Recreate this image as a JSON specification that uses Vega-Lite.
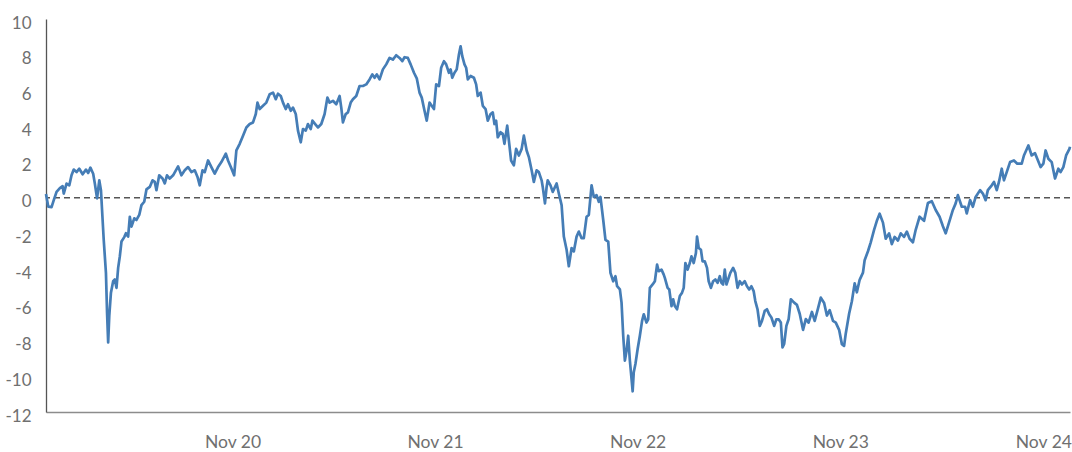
{
  "$schema": "https://vega.github.io/schema/vega-lite/v6.json",
  "autosize": "none",
  "width": 1024,
  "height": 393,
  "padding": {"left": 46, "top": 19, "right": 2, "bottom": 40},
  "background": "#ffffff",
  "config": {
    "view": {"stroke": null},
    "axis": {"labelFont": "Lato", "labelFontSize": 17, "labelColor": "#707070", "grid": false, "ticks": false, "tickSize": 0, "title": null, "labelOverlap": false}
  },
  "datasets": {
    "series": [
{"d":"2019-12-01","v":0.2},{"d":"2019-12-05","v":-0.5},{"d":"2019-12-11","v":-0.53},{"d":"2019-12-15","v":-0.14},{"d":"2019-12-20","v":0.32},{"d":"2019-12-26","v":0.53},{"d":"2019-12-31","v":0.64},
{"d":"2020-01-02","v":0.23},{"d":"2020-01-07","v":0.79},{"d":"2020-01-12","v":0.69},{"d":"2020-01-16","v":1.25},{"d":"2020-01-20","v":1.57},{"d":"2020-01-25","v":1.43},{"d":"2020-01-30","v":1.62},
{"d":"2020-02-05","v":1.31},{"d":"2020-02-11","v":1.57},{"d":"2020-02-15","v":1.38},{"d":"2020-02-19","v":1.68},{"d":"2020-02-24","v":1.34},{"d":"2020-02-27","v":0.79},
{"d":"2020-03-02","v":-0.04},{"d":"2020-03-06","v":0.97},{"d":"2020-03-09","v":0.42},{"d":"2020-03-11","v":-0.69},{"d":"2020-03-14","v":-2.36},{"d":"2020-03-18","v":-4.21},{"d":"2020-03-20","v":-6.43},{"d":"2020-03-22","v":-8.1},{"d":"2020-03-24","v":-6.62},{"d":"2020-03-27","v":-5.32},{"d":"2020-03-31","v":-4.68},
{"d":"2020-04-03","v":-4.58},{"d":"2020-04-06","v":-5.05},{"d":"2020-04-09","v":-3.93},{"d":"2020-04-12","v":-3.29},{"d":"2020-04-15","v":-2.46},{"d":"2020-04-20","v":-2.21},{"d":"2020-04-23","v":-1.99},{"d":"2020-04-27","v":-2.18},{"d":"2020-04-30","v":-1.07},
{"d":"2020-05-03","v":-1.62},{"d":"2020-05-08","v":-1.16},{"d":"2020-05-12","v":-1.25},{"d":"2020-05-17","v":-0.97},{"d":"2020-05-21","v":-0.42},{"d":"2020-05-26","v":-0.23},{"d":"2020-05-30","v":0.46},
{"d":"2020-06-05","v":0.6},{"d":"2020-06-10","v":0.97},{"d":"2020-06-14","v":0.88},{"d":"2020-06-17","v":0.42},{"d":"2020-06-22","v":1.25},{"d":"2020-06-28","v":1.07},
{"d":"2020-07-02","v":0.8},{"d":"2020-07-06","v":1.25},{"d":"2020-07-11","v":1.07},{"d":"2020-07-17","v":1.25},{"d":"2020-07-26","v":1.75},
{"d":"2020-08-01","v":1.25},{"d":"2020-08-07","v":1.53},{"d":"2020-08-13","v":1.71},{"d":"2020-08-19","v":1.43},{"d":"2020-08-25","v":1.53},{"d":"2020-08-30","v":1.16},
{"d":"2020-09-03","v":0.69},{"d":"2020-09-08","v":1.53},{"d":"2020-09-12","v":1.43},{"d":"2020-09-18","v":2.08},{"d":"2020-09-24","v":1.71},{"d":"2020-09-30","v":1.34},
{"d":"2020-10-06","v":1.71},{"d":"2020-10-12","v":1.99},{"d":"2020-10-20","v":2.46},{"d":"2020-10-24","v":2.08},{"d":"2020-10-29","v":1.71},
{"d":"2020-11-04","v":1.25},{"d":"2020-11-08","v":2.64},{"d":"2020-11-14","v":3.01},{"d":"2020-11-20","v":3.47},{"d":"2020-11-26","v":3.93},
{"d":"2020-12-02","v":4.12},{"d":"2020-12-08","v":4.21},{"d":"2020-12-13","v":4.68},{"d":"2020-12-16","v":5.32},{"d":"2020-12-20","v":4.96},{"d":"2020-12-26","v":5.14},
{"d":"2021-01-01","v":5.32},{"d":"2021-01-07","v":5.79},{"d":"2021-01-13","v":5.88},{"d":"2021-01-18","v":5.51},{"d":"2021-01-22","v":5.82},{"d":"2021-01-27","v":5.69},{"d":"2021-01-31","v":5.32},
{"d":"2021-02-05","v":4.96},{"d":"2021-02-09","v":5.23},{"d":"2021-02-14","v":4.86},{"d":"2021-02-18","v":5.04},{"d":"2021-02-23","v":4.68},{"d":"2021-02-27","v":3.75},
{"d":"2021-03-04","v":3.1},{"d":"2021-03-08","v":3.84},{"d":"2021-03-13","v":3.75},{"d":"2021-03-17","v":4.12},{"d":"2021-03-22","v":3.84},{"d":"2021-03-25","v":4.31},{"d":"2021-03-30","v":4.12},
{"d":"2021-04-04","v":3.93},{"d":"2021-04-10","v":4.12},{"d":"2021-04-16","v":4.68},{"d":"2021-04-21","v":5.6},{"d":"2021-04-25","v":5.32},
{"d":"2021-05-01","v":5.42},{"d":"2021-05-07","v":5.23},{"d":"2021-05-13","v":5.69},{"d":"2021-05-16","v":5.04},{"d":"2021-05-19","v":4.21},{"d":"2021-05-24","v":4.68},{"d":"2021-05-28","v":4.77},
{"d":"2021-06-02","v":5.32},{"d":"2021-06-06","v":5.51},{"d":"2021-06-12","v":5.69},{"d":"2021-06-18","v":6.25},{"d":"2021-06-24","v":6.25},{"d":"2021-06-30","v":6.34},
{"d":"2021-07-06","v":6.62},{"d":"2021-07-11","v":6.9},{"d":"2021-07-15","v":6.71},{"d":"2021-07-19","v":6.9},{"d":"2021-07-24","v":6.62},{"d":"2021-07-30","v":7.18},
{"d":"2021-08-05","v":7.46},{"d":"2021-08-11","v":7.82},{"d":"2021-08-17","v":7.73},{"d":"2021-08-23","v":7.97},{"d":"2021-08-29","v":7.82},
{"d":"2021-09-03","v":7.64},{"d":"2021-09-07","v":7.86},{"d":"2021-09-13","v":7.82},{"d":"2021-09-18","v":7.46},{"d":"2021-09-24","v":6.99},{"d":"2021-09-29","v":6.68},
{"d":"2021-10-04","v":5.88},{"d":"2021-10-08","v":5.6},{"d":"2021-10-13","v":4.86},{"d":"2021-10-17","v":4.31},{"d":"2021-10-22","v":5.32},{"d":"2021-10-26","v":5.14},{"d":"2021-10-30","v":4.96},
{"d":"2021-11-03","v":6.34},{"d":"2021-11-08","v":6.25},{"d":"2021-11-12","v":7.27},{"d":"2021-11-17","v":7.64},{"d":"2021-11-21","v":7.46},{"d":"2021-11-26","v":6.99},{"d":"2021-11-29","v":7.18},
{"d":"2021-12-02","v":6.71},{"d":"2021-12-06","v":6.99},{"d":"2021-12-10","v":7.18},{"d":"2021-12-14","v":8.01},{"d":"2021-12-17","v":8.47},{"d":"2021-12-20","v":7.92},{"d":"2021-12-24","v":7.46},{"d":"2021-12-27","v":7.27},{"d":"2021-12-30","v":6.62},
{"d":"2022-01-04","v":6.81},{"d":"2022-01-10","v":6.71},{"d":"2022-01-14","v":6.34},{"d":"2022-01-17","v":5.69},{"d":"2022-01-22","v":5.88},{"d":"2022-01-26","v":5.14},{"d":"2022-01-31","v":4.96},
{"d":"2022-02-04","v":4.31},{"d":"2022-02-09","v":4.68},{"d":"2022-02-13","v":4.77},{"d":"2022-02-16","v":4.12},{"d":"2022-02-19","v":4.31},{"d":"2022-02-22","v":3.38},{"d":"2022-02-27","v":3.66},
{"d":"2022-03-03","v":3.57},{"d":"2022-03-06","v":3.01},{"d":"2022-03-11","v":4.03},{"d":"2022-03-14","v":3.19},{"d":"2022-03-18","v":2.08},{"d":"2022-03-23","v":1.81},{"d":"2022-03-27","v":2.73},
{"d":"2022-04-01","v":2.36},{"d":"2022-04-06","v":2.73},{"d":"2022-04-10","v":3.47},{"d":"2022-04-15","v":2.64},{"d":"2022-04-19","v":2.27},{"d":"2022-04-24","v":1.53},{"d":"2022-04-28","v":0.88},
{"d":"2022-05-03","v":1.53},{"d":"2022-05-07","v":1.43},{"d":"2022-05-12","v":0.97},{"d":"2022-05-14","v":0.6},{"d":"2022-05-18","v":-0.32},{"d":"2022-05-21","v":0.6},{"d":"2022-05-23","v":0.97},{"d":"2022-05-28","v":0.69},
{"d":"2022-06-01","v":0.32},{"d":"2022-06-08","v":0.79},{"d":"2022-06-12","v":0.23},{"d":"2022-06-17","v":-0.42},{"d":"2022-06-21","v":-2.18},{"d":"2022-06-26","v":-2.92},{"d":"2022-06-30","v":-3.84},
{"d":"2022-07-05","v":-2.82},{"d":"2022-07-09","v":-3.01},{"d":"2022-07-14","v":-2.18},{"d":"2022-07-18","v":-1.9},{"d":"2022-07-23","v":-2.27},{"d":"2022-07-27","v":-2.27},
{"d":"2022-08-01","v":-1.07},{"d":"2022-08-05","v":-0.97},{"d":"2022-08-10","v":0.69},{"d":"2022-08-14","v":0.04},{"d":"2022-08-19","v":0.14},{"d":"2022-08-23","v":-0.23},{"d":"2022-08-26","v":0.04},{"d":"2022-08-31","v":-1.25},
{"d":"2022-09-04","v":-2.36},{"d":"2022-09-09","v":-2.46},{"d":"2022-09-13","v":-4.21},{"d":"2022-09-18","v":-4.68},{"d":"2022-09-22","v":-4.4},{"d":"2022-09-25","v":-4.96},{"d":"2022-09-30","v":-5.14},
{"d":"2022-10-03","v":-5.88},{"d":"2022-10-06","v":-7.73},{"d":"2022-10-09","v":-9.12},{"d":"2022-10-12","v":-8.57},{"d":"2022-10-15","v":-7.73},{"d":"2022-10-18","v":-9.12},{"d":"2022-10-21","v":-10.14},{"d":"2022-10-23","v":-10.84},{"d":"2022-10-25","v":-9.77},{"d":"2022-10-28","v":-9.31},
{"d":"2022-11-01","v":-8.47},{"d":"2022-11-05","v":-7.73},{"d":"2022-11-09","v":-6.9},{"d":"2022-11-12","v":-6.53},{"d":"2022-11-17","v":-6.99},{"d":"2022-11-20","v":-6.81},{"d":"2022-11-23","v":-5.05},{"d":"2022-11-28","v":-4.86},
{"d":"2022-12-02","v":-4.68},{"d":"2022-12-06","v":-3.75},{"d":"2022-12-09","v":-4.12},{"d":"2022-12-14","v":-4.03},{"d":"2022-12-18","v":-4.31},{"d":"2022-12-20","v":-4.49},{"d":"2022-12-25","v":-5.05},{"d":"2022-12-28","v":-5.14},
{"d":"2023-01-01","v":-6.07},{"d":"2023-01-04","v":-5.69},{"d":"2023-01-07","v":-6.07},{"d":"2023-01-11","v":-6.25},{"d":"2023-01-16","v":-5.51},{"d":"2023-01-20","v":-5.32},{"d":"2023-01-23","v":-5.05},{"d":"2023-01-26","v":-3.66},{"d":"2023-01-30","v":-4.03},
{"d":"2023-02-03","v":-3.66},{"d":"2023-02-06","v":-3.29},{"d":"2023-02-10","v":-3.66},{"d":"2023-02-14","v":-3.1},{"d":"2023-02-16","v":-2.18},{"d":"2023-02-19","v":-2.82},{"d":"2023-02-23","v":-2.92},{"d":"2023-02-26","v":-3.57},
{"d":"2023-03-02","v":-3.57},{"d":"2023-03-06","v":-3.93},{"d":"2023-03-09","v":-4.68},{"d":"2023-03-13","v":-5.05},{"d":"2023-03-17","v":-4.68},{"d":"2023-03-21","v":-4.58},{"d":"2023-03-25","v":-4.77},{"d":"2023-03-29","v":-4.4},
{"d":"2023-04-01","v":-4.77},{"d":"2023-04-04","v":-4.86},{"d":"2023-04-07","v":-4.03},{"d":"2023-04-10","v":-4.86},{"d":"2023-04-13","v":-4.58},{"d":"2023-04-17","v":-4.21},{"d":"2023-04-22","v":-3.93},{"d":"2023-04-26","v":-4.21},{"d":"2023-04-30","v":-5.05},
{"d":"2023-05-04","v":-4.68},{"d":"2023-05-08","v":-4.86},{"d":"2023-05-13","v":-4.68},{"d":"2023-05-17","v":-4.96},{"d":"2023-05-21","v":-5.14},{"d":"2023-05-25","v":-4.96},{"d":"2023-05-29","v":-5.23},
{"d":"2023-06-01","v":-5.79},{"d":"2023-06-05","v":-6.25},{"d":"2023-06-09","v":-7.18},{"d":"2023-06-13","v":-6.9},{"d":"2023-06-18","v":-6.34},{"d":"2023-06-22","v":-6.25},{"d":"2023-06-26","v":-6.53},{"d":"2023-06-30","v":-6.71},
{"d":"2023-07-05","v":-7.18},{"d":"2023-07-09","v":-6.81},{"d":"2023-07-13","v":-6.81},{"d":"2023-07-17","v":-6.99},{"d":"2023-07-20","v":-8.38},{"d":"2023-07-23","v":-8.19},{"d":"2023-07-27","v":-7.18},{"d":"2023-07-31","v":-6.81},
{"d":"2023-08-04","v":-5.69},{"d":"2023-08-10","v":-5.88},{"d":"2023-08-15","v":-6.0},{"d":"2023-08-20","v":-6.5},{"d":"2023-08-26","v":-7.4},{"d":"2023-08-31","v":-6.8},
{"d":"2023-09-05","v":-7.0},{"d":"2023-09-11","v":-6.4},{"d":"2023-09-16","v":-6.9},{"d":"2023-09-22","v":-6.2},{"d":"2023-09-27","v":-5.6},
{"d":"2023-10-03","v":-5.9},{"d":"2023-10-08","v":-6.6},{"d":"2023-10-13","v":-6.3},{"d":"2023-10-19","v":-6.9},{"d":"2023-10-24","v":-7.0},{"d":"2023-10-30","v":-7.4},
{"d":"2023-11-04","v":-8.2},{"d":"2023-11-08","v":-8.3},{"d":"2023-11-11","v":-7.6},{"d":"2023-11-17","v":-6.5},{"d":"2023-11-22","v":-5.8},{"d":"2023-11-27","v":-4.8},
{"d":"2023-12-01","v":-5.3},{"d":"2023-12-06","v":-4.6},{"d":"2023-12-12","v":-4.2},{"d":"2023-12-15","v":-3.5},{"d":"2023-12-21","v":-3.0},{"d":"2023-12-26","v":-2.5},
{"d":"2024-01-01","v":-1.8},{"d":"2024-01-06","v":-1.3},{"d":"2024-01-11","v":-0.9},{"d":"2024-01-17","v":-1.4},{"d":"2024-01-22","v":-2.3},{"d":"2024-01-28","v":-2.0},
{"d":"2024-02-02","v":-2.6},{"d":"2024-02-07","v":-2.2},{"d":"2024-02-13","v":-2.4},{"d":"2024-02-18","v":-2.0},{"d":"2024-02-24","v":-2.2},{"d":"2024-02-29","v":-1.9},
{"d":"2024-03-05","v":-2.3},{"d":"2024-03-11","v":-2.5},{"d":"2024-03-16","v":-1.8},{"d":"2024-03-23","v":-1.07},{"d":"2024-03-31","v":-1.3},
{"d":"2024-04-07","v":-0.3},{"d":"2024-04-14","v":-0.2},{"d":"2024-04-21","v":-0.69},{"d":"2024-04-28","v":-1.07},
{"d":"2024-05-04","v":-1.6},{"d":"2024-05-09","v":-2.0},{"d":"2024-05-15","v":-1.4},{"d":"2024-05-22","v":-0.69},{"d":"2024-05-27","v":-0.32},{"d":"2024-05-31","v":0.14},
{"d":"2024-06-07","v":-0.51},{"d":"2024-06-13","v":-0.51},{"d":"2024-06-16","v":-0.88},{"d":"2024-06-22","v":-0.14},{"d":"2024-06-27","v":-0.51},
{"d":"2024-07-02","v":0.04},{"d":"2024-07-10","v":0.42},{"d":"2024-07-15","v":0.23},{"d":"2024-07-20","v":-0.14},{"d":"2024-07-24","v":0.42},{"d":"2024-07-31","v":0.69},
{"d":"2024-08-04","v":0.88},{"d":"2024-08-09","v":0.42},{"d":"2024-08-13","v":0.88},{"d":"2024-08-18","v":1.62},{"d":"2024-08-22","v":0.97},{"d":"2024-08-27","v":1.43},
{"d":"2024-09-02","v":1.99},{"d":"2024-09-09","v":2.08},{"d":"2024-09-15","v":1.9},{"d":"2024-09-23","v":1.9},{"d":"2024-09-27","v":2.36},
{"d":"2024-10-05","v":2.92},{"d":"2024-10-11","v":2.36},{"d":"2024-10-17","v":2.49},{"d":"2024-10-21","v":2.18},{"d":"2024-10-27","v":1.71},
{"d":"2024-11-01","v":1.9},{"d":"2024-11-05","v":2.64},{"d":"2024-11-10","v":2.18},{"d":"2024-11-16","v":1.99},{"d":"2024-11-22","v":1.07},{"d":"2024-11-28","v":1.62},
{"d":"2024-12-02","v":1.43},{"d":"2024-12-07","v":1.71},{"d":"2024-12-12","v":2.36},{"d":"2024-12-18","v":2.73},{"d":"2024-12-19","v":2.85}
    ],
    "zero": [{"z": 0}]
  },
  "encoding": {
    "y": {
      "type": "quantitative",
      "scale": {"domain": [-12, 10], "nice": false},
      "axis": {
        "values": [-12, -10, -8, -6, -4, -2, 0, 2, 4, 6, 8, 10],
        "labelExpr": "'' + datum.value",
        "labelOverlap": false,
        "labelSeparation": 0,
        "labelPadding": 15,
        "labelOffset": 4,
        "domainColor": "#555555",
        "domainWidth": 1.3
      }
    }
  },
  "layer": [
    {
      "data": {"name": "zero"},
      "mark": {"type": "rule", "color": "#555555", "strokeWidth": 1.5, "strokeDash": [6, 4]},
      "encoding": {"y": {"field": "z", "type": "quantitative"}}
    },
    {
      "data": {"name": "series"},
      "mark": {"type": "line", "color": "#457db6", "strokeWidth": 2.7, "strokeJoin": "round"},
      "encoding": {
        "x": {
          "field": "d", "type": "temporal",
          "scale": {"type": "utc", "nice": false, "domain": [{"year": 2019, "month": "dec", "date": 1, "utc": true}, {"year": 2024, "month": "dec", "date": 19, "utc": true}]},
          "axis": {
            "values": [{"year": 2020, "month": "nov", "date": 1, "utc": true}, {"year": 2021, "month": "nov", "date": 1, "utc": true}, {"year": 2022, "month": "nov", "date": 1, "utc": true}, {"year": 2023, "month": "nov", "date": 1, "utc": true}, {"year": 2024, "month": "nov", "date": 1, "utc": true}],
            "format": "%b %y",
            "labelPadding": 21,
            "labelFontSize": 17.5,
            "domainColor": "#8c8c8c",
            "domainWidth": 1.5,
            "labelFlush": false
          }
        },
        "y": {"field": "v", "type": "quantitative"}
      }
    }
  ]
}
